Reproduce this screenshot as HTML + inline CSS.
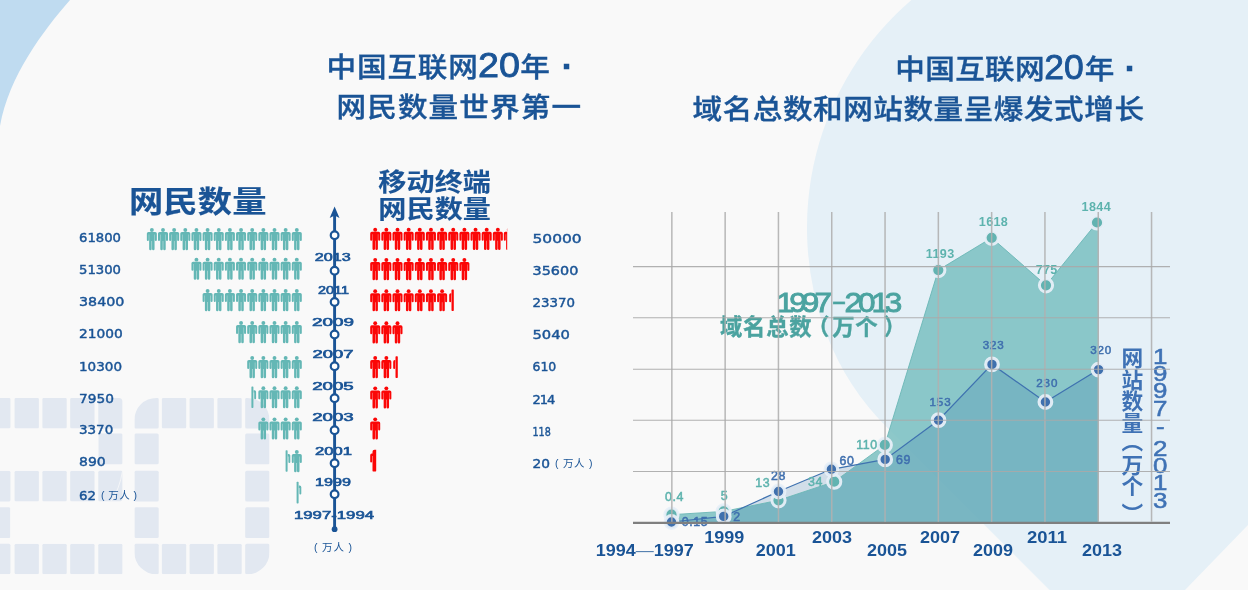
<!DOCTYPE html>
<html lang="zh-CN"><head><meta charset="utf-8"><title>中国互联网20年</title>
<style>html,body{margin:0;padding:0;background:#f9f9f9;}body{width:1248px;height:590px;overflow:hidden;position:relative;}svg{display:block;position:absolute;left:0;top:0;}
text{font-family:"Liberation Sans","Noto Sans CJK SC",sans-serif;}
.cj{font-family:"Liberation Sans","Noto Sans CJK SC",sans-serif;font-weight:700;}
.num{font-family:"DejaVu Sans","Liberation Sans",sans-serif;font-size:13px;fill:#1a5496;stroke:#1a5496;stroke-width:.45;}
.yr{font-family:"Liberation Sans",sans-serif;font-size:11.2px;fill:#1a5496;stroke:#1a5496;stroke-width:.6;text-anchor:middle;}
.ax{font-family:"Liberation Sans",sans-serif;font-weight:700;font-size:16px;fill:#1a5496;text-anchor:middle;}
.tl{font-family:"Liberation Sans",sans-serif;font-size:11.6px;fill:#5db3ae;stroke:#5db3ae;stroke-width:.5;text-anchor:middle;letter-spacing:.9px;}
.bl{font-family:"Liberation Sans",sans-serif;font-size:11.6px;fill:#3f6fae;stroke:#3f6fae;stroke-width:.5;text-anchor:middle;letter-spacing:.9px;}
</style></head><body>
<svg width="1248" height="590" viewBox="0 0 1248 590">
<defs>
<g id="p"><circle cx="5" cy="1.95" r="1.95"/><path d="M1.6,4 H8.4 A1.6,1.6 0 0 1 10,5.6 V12 A1,1 0 0 1 8,12 V6.4 H7.7 V20.9 A1.25,1.25 0 0 1 5.2,20.9 V13 H4.8 V20.9 A1.25,1.25 0 0 1 2.3,20.9 V6.4 H2 V12 A1,1 0 0 1 0,12 V5.6 A1.6,1.6 0 0 1 1.6,4 Z"/></g>
<g id="pr"><rect x="0" y="0.2" width="2" height="21.6" rx=".7"/><path d="M2.2,4 h0.9 a1.6,1.6 0 0 1 1.6,1.6 V12 a0.95,0.95 0 0 1 -1.9,0 V6.4 H2.2 Z"/></g>
<g id="pl"><rect x="2.3" y="0.2" width="2.3" height="21.6" rx=".7"/><path d="M2.1,4 h-0.5 a1.6,1.6 0 0 0 -1.6,1.6 V12 a0.95,0.95 0 0 0 1.9,0 V6.4 H2.1 Z"/></g>
<clipPath id="c20"><path clip-rule="evenodd" d="M156.4,397.9 H247.5 A22,22 0 0 1 269.5,419.9 V552.3 A22,22 0 0 1 247.5,574.3 H156.4 A22,22 0 0 1 134.4,552.3 V419.9 A22,22 0 0 1 156.4,397.9 Z M160,428.4 V543.7 H243.5 V428.4 Z"/>
<path d="M-20,397.9 H119.1 A3.5,3.5 0 0 1 122.6,401.4 V498.4 A3,3 0 0 1 119.6,501.4 H10.4 V543.7 H122.6 V574.3 H-20 V492 A21.4,21.4 0 0 1 1.4,470.8 H98.3 V428.4 H-20 Z"/></clipPath>
<clipPath id="cr8"><rect x="360" y="445" width="16.2" height="40"/></clipPath>
<clipPath id="cr1"><rect x="360" y="220" width="147.2" height="40"/></clipPath>
</defs>
<rect width="1248" height="590" fill="#f9f9f9"/>
<path d="M0,0 H70 C43,31 9,76 0,126 Z" fill="#bfdbf0"/>
<path d="M911.4,0 A300.4,300.4 0 0 0 827,335.5 Q847.1,387.6 886.6,427 L1049.5,590 H1185 L1248,525 V0 Z" fill="#e5f0f7"/>
<g clip-path="url(#c20)" fill="#e2e8f1">
<rect x="-13.9" y="397.9" width="24.3" height="30.6" rx="1.5"/>
<rect x="14.6" y="397.9" width="24.3" height="30.6" rx="1.5"/>
<rect x="42.4" y="397.9" width="24.3" height="30.6" rx="1.5"/>
<rect x="70.2" y="397.9" width="24.3" height="30.6" rx="1.5"/>
<rect x="98.3" y="397.9" width="24.3" height="30.6" rx="1.5"/>
<rect x="134.4" y="397.9" width="24.3" height="30.6" rx="1.5"/>
<rect x="161.9" y="397.9" width="24.3" height="30.6" rx="1.5"/>
<rect x="189.6" y="397.9" width="24.3" height="30.6" rx="1.5"/>
<rect x="217.4" y="397.9" width="24.3" height="30.6" rx="1.5"/>
<rect x="245.2" y="397.9" width="24.3" height="30.6" rx="1.5"/>
<rect x="-13.9" y="433.6" width="24.3" height="30.6" rx="1.5"/>
<rect x="14.6" y="433.6" width="24.3" height="30.6" rx="1.5"/>
<rect x="42.4" y="433.6" width="24.3" height="30.6" rx="1.5"/>
<rect x="70.2" y="433.6" width="24.3" height="30.6" rx="1.5"/>
<rect x="98.3" y="433.6" width="24.3" height="30.6" rx="1.5"/>
<rect x="134.4" y="433.6" width="24.3" height="30.6" rx="1.5"/>
<rect x="161.9" y="433.6" width="24.3" height="30.6" rx="1.5"/>
<rect x="189.6" y="433.6" width="24.3" height="30.6" rx="1.5"/>
<rect x="217.4" y="433.6" width="24.3" height="30.6" rx="1.5"/>
<rect x="245.2" y="433.6" width="24.3" height="30.6" rx="1.5"/>
<rect x="-13.9" y="470.8" width="24.3" height="30.6" rx="1.5"/>
<rect x="14.6" y="470.8" width="24.3" height="30.6" rx="1.5"/>
<rect x="42.4" y="470.8" width="24.3" height="30.6" rx="1.5"/>
<rect x="70.2" y="470.8" width="24.3" height="30.6" rx="1.5"/>
<rect x="98.3" y="470.8" width="24.3" height="30.6" rx="1.5"/>
<rect x="134.4" y="470.8" width="24.3" height="30.6" rx="1.5"/>
<rect x="161.9" y="470.8" width="24.3" height="30.6" rx="1.5"/>
<rect x="189.6" y="470.8" width="24.3" height="30.6" rx="1.5"/>
<rect x="217.4" y="470.8" width="24.3" height="30.6" rx="1.5"/>
<rect x="245.2" y="470.8" width="24.3" height="30.6" rx="1.5"/>
<rect x="-13.9" y="507.3" width="24.3" height="30.6" rx="1.5"/>
<rect x="14.6" y="507.3" width="24.3" height="30.6" rx="1.5"/>
<rect x="42.4" y="507.3" width="24.3" height="30.6" rx="1.5"/>
<rect x="70.2" y="507.3" width="24.3" height="30.6" rx="1.5"/>
<rect x="98.3" y="507.3" width="24.3" height="30.6" rx="1.5"/>
<rect x="134.4" y="507.3" width="24.3" height="30.6" rx="1.5"/>
<rect x="161.9" y="507.3" width="24.3" height="30.6" rx="1.5"/>
<rect x="189.6" y="507.3" width="24.3" height="30.6" rx="1.5"/>
<rect x="217.4" y="507.3" width="24.3" height="30.6" rx="1.5"/>
<rect x="245.2" y="507.3" width="24.3" height="30.6" rx="1.5"/>
<rect x="-13.9" y="543.7" width="24.3" height="30.6" rx="1.5"/>
<rect x="14.6" y="543.7" width="24.3" height="30.6" rx="1.5"/>
<rect x="42.4" y="543.7" width="24.3" height="30.6" rx="1.5"/>
<rect x="70.2" y="543.7" width="24.3" height="30.6" rx="1.5"/>
<rect x="98.3" y="543.7" width="24.3" height="30.6" rx="1.5"/>
<rect x="134.4" y="543.7" width="24.3" height="30.6" rx="1.5"/>
<rect x="161.9" y="543.7" width="24.3" height="30.6" rx="1.5"/>
<rect x="189.6" y="543.7" width="24.3" height="30.6" rx="1.5"/>
<rect x="217.4" y="543.7" width="24.3" height="30.6" rx="1.5"/>
<rect x="245.2" y="543.7" width="24.3" height="30.6" rx="1.5"/>
</g>
<path d="M122.4,471.5 Q119.5,489 111.3,501" fill="none" stroke="#f9f9f9" stroke-width=".8"/>
<g class="cj" fill="#1a5496" stroke="#1a5496" stroke-width=".4" style="font-weight:500">
<text transform="translate(0,76.6) scale(1,.925)" y="0" font-size="29.6"><tspan x="326.6" textLength="151.2">中国互联网</tspan><tspan x="478" font-size="38" dy=".9" font-weight="400" stroke="#1a5496" stroke-width=".9" textLength="42" lengthAdjust="spacingAndGlyphs" style="font-family:'Liberation Sans',sans-serif">20</tspan><tspan x="520.3" dy="-.9">年</tspan><tspan x="561.6" font-size="36" dy="1.6" font-weight="700">·</tspan></text>
<text transform="translate(0,117.2) scale(1,.925)" x="581" y="0" font-size="29.6" text-anchor="end" textLength="244.5">网民数量世界第一</text>
<text transform="translate(0,78.6) scale(1,.925)" y="0" font-size="29.6"><tspan x="895.2" textLength="149.5">中国互联网</tspan><tspan x="1044.2" font-size="38" dy=".9" font-weight="400" stroke="#1a5496" stroke-width=".9" textLength="39.5" lengthAdjust="spacingAndGlyphs" style="font-family:'Liberation Sans',sans-serif">20</tspan><tspan x="1084.8" dy="-.9">年</tspan><tspan x="1124.6" font-size="36" dy="1.6" font-weight="700">·</tspan></text>
<text transform="translate(0,119.2) scale(1,.925)" x="1144" y="0" font-size="29.6" text-anchor="end" textLength="451.5">域名总数和网站数量呈爆发式增长</text>
<text transform="translate(128.9,211.9) scale(1.15,1)" font-size="29.8" textLength="119.6" style="font-weight:700;stroke-width:.15">网民数量</text>
<text transform="translate(378.2,191.2) scale(1.147,1)" font-size="24.5" textLength="98.3" style="font-weight:700;stroke-width:.1">移动终端</text>
<text transform="translate(378.2,217.8) scale(1.147,1)" font-size="24.5" textLength="98.3" style="font-weight:700;stroke-width:.1">网民数量</text>
</g>
<g fill="#64b7b5">
<use href="#p" x="291.80" y="228.0"/>
<use href="#p" x="280.65" y="228.0"/>
<use href="#p" x="269.50" y="228.0"/>
<use href="#p" x="258.35" y="228.0"/>
<use href="#p" x="247.20" y="228.0"/>
<use href="#p" x="236.05" y="228.0"/>
<use href="#p" x="224.90" y="228.0"/>
<use href="#p" x="213.75" y="228.0"/>
<use href="#p" x="202.60" y="228.0"/>
<use href="#p" x="191.45" y="228.0"/>
<use href="#p" x="180.30" y="228.0"/>
<use href="#p" x="169.15" y="228.0"/>
<use href="#p" x="158.00" y="228.0"/>
<use href="#p" x="146.85" y="228.0"/>
<use href="#p" x="291.80" y="257.7"/>
<use href="#p" x="280.65" y="257.7"/>
<use href="#p" x="269.50" y="257.7"/>
<use href="#p" x="258.35" y="257.7"/>
<use href="#p" x="247.20" y="257.7"/>
<use href="#p" x="236.05" y="257.7"/>
<use href="#p" x="224.90" y="257.7"/>
<use href="#p" x="213.75" y="257.7"/>
<use href="#p" x="202.60" y="257.7"/>
<use href="#p" x="191.45" y="257.7"/>
<use href="#p" x="291.80" y="289.0"/>
<use href="#p" x="280.65" y="289.0"/>
<use href="#p" x="269.50" y="289.0"/>
<use href="#p" x="258.35" y="289.0"/>
<use href="#p" x="247.20" y="289.0"/>
<use href="#p" x="236.05" y="289.0"/>
<use href="#p" x="224.90" y="289.0"/>
<use href="#p" x="213.75" y="289.0"/>
<use href="#p" x="202.60" y="289.0"/>
<use href="#p" x="291.80" y="321.0"/>
<use href="#p" x="280.65" y="321.0"/>
<use href="#p" x="269.50" y="321.0"/>
<use href="#p" x="258.35" y="321.0"/>
<use href="#p" x="247.20" y="321.0"/>
<use href="#p" x="236.05" y="321.0"/>
<use href="#p" x="291.80" y="356.0"/>
<use href="#p" x="280.65" y="356.0"/>
<use href="#p" x="269.50" y="356.0"/>
<use href="#p" x="258.35" y="356.0"/>
<use href="#p" x="247.20" y="356.0"/>
<use href="#p" x="291.80" y="386.2"/>
<use href="#p" x="280.65" y="386.2"/>
<use href="#p" x="269.50" y="386.2"/>
<use href="#p" x="258.35" y="386.2"/>
<use href="#pr" x="251.40" y="386.2"/>
<use href="#p" x="291.80" y="417.4"/>
<use href="#p" x="280.65" y="417.4"/>
<use href="#p" x="269.50" y="417.4"/>
<use href="#p" x="258.35" y="417.4"/>
<use href="#p" x="291.80" y="450.0"/>
<use href="#pr" x="285.60" y="450.0"/>
<use href="#pr" x="296.60" y="481.6"/>
</g>
<g fill="#fb0606">
<use href="#p" x="370.20" y="227.8"/>
<use href="#p" x="381.35" y="227.8"/>
<use href="#p" x="392.50" y="227.8"/>
<use href="#p" x="403.65" y="227.8"/>
<use href="#p" x="414.80" y="227.8"/>
<use href="#p" x="425.95" y="227.8"/>
<use href="#p" x="437.10" y="227.8"/>
<use href="#p" x="448.25" y="227.8"/>
<use href="#p" x="459.40" y="227.8"/>
<use href="#p" x="470.55" y="227.8"/>
<use href="#p" x="481.70" y="227.8"/>
<use href="#p" x="492.85" y="227.8"/>
<g clip-path="url(#cr1)"><use href="#p" x="503.80" y="227.8"/></g>
<use href="#p" x="370.20" y="258.0"/>
<use href="#p" x="381.35" y="258.0"/>
<use href="#p" x="392.50" y="258.0"/>
<use href="#p" x="403.65" y="258.0"/>
<use href="#p" x="414.80" y="258.0"/>
<use href="#p" x="425.95" y="258.0"/>
<use href="#p" x="437.10" y="258.0"/>
<use href="#p" x="448.25" y="258.0"/>
<use href="#p" x="459.40" y="258.0"/>
<use href="#p" x="370.20" y="289.2"/>
<use href="#p" x="381.35" y="289.2"/>
<use href="#p" x="392.50" y="289.2"/>
<use href="#p" x="403.65" y="289.2"/>
<use href="#p" x="414.80" y="289.2"/>
<use href="#p" x="425.95" y="289.2"/>
<use href="#p" x="437.10" y="289.2"/>
<use href="#pl" x="449.20" y="289.2"/>
<use href="#p" x="370.20" y="321.3"/>
<use href="#p" x="381.35" y="321.3"/>
<use href="#p" x="392.50" y="321.3"/>
<use href="#p" x="370.20" y="356.1"/>
<use href="#p" x="381.35" y="356.1"/>
<use href="#pl" x="393.20" y="356.1"/>
<use href="#p" x="370.20" y="386.4"/>
<use href="#p" x="381.35" y="386.4"/>
<use href="#p" x="370.20" y="417.4"/>
<path transform="translate(370.20,449.6)" d="M1.6,4 H2.3 V2.2 A2,2 0 0 1 4.3,0.2 H6 V21.2 A0.6,0.6 0 0 1 5.4,21.8 H2.9 A0.6,0.6 0 0 1 2.3,21.2 V6.4 H1.9 V12 A0.95,0.95 0 0 1 0,12 V5.6 A1.6,1.6 0 0 1 1.6,4 Z"/>
</g>
<text class="num" x="79.0" y="241.7" textLength="42.0" lengthAdjust="spacingAndGlyphs">61800</text>
<text class="num" x="79.0" y="274.0" textLength="42.0" lengthAdjust="spacingAndGlyphs">51300</text>
<text class="num" x="79.0" y="305.6" textLength="45.4" lengthAdjust="spacingAndGlyphs">38400</text>
<text class="num" x="79.0" y="337.6" textLength="43.7" lengthAdjust="spacingAndGlyphs">21000</text>
<text class="num" x="79.0" y="370.8" textLength="43.0" lengthAdjust="spacingAndGlyphs">10300</text>
<text class="num" x="79.0" y="402.7" textLength="34.9" lengthAdjust="spacingAndGlyphs">7950</text>
<text class="num" x="79.0" y="434.3" textLength="34.2" lengthAdjust="spacingAndGlyphs">3370</text>
<text class="num" x="79.0" y="466.3" textLength="26.7" lengthAdjust="spacingAndGlyphs">890</text>
<text class="num" x="79.0" y="499.5" textLength="17.0" lengthAdjust="spacingAndGlyphs">62</text>
<text x="101" y="499" font-size="10.5" fill="#1a5496" textLength="36" style="font-family:'Liberation Sans','Noto Sans CJK SC',sans-serif">( 万人 )</text>
<text class="num" x="532.5" y="243.0" textLength="49.2" lengthAdjust="spacingAndGlyphs">50000</text>
<text class="num" x="532.5" y="274.7" textLength="45.8" lengthAdjust="spacingAndGlyphs">35600</text>
<text class="num" x="532.5" y="307.0" textLength="42.5" lengthAdjust="spacingAndGlyphs">23370</text>
<text class="num" x="532.5" y="338.5" textLength="37.5" lengthAdjust="spacingAndGlyphs">5040</text>
<text class="num" x="532.5" y="371.0" textLength="23.8" lengthAdjust="spacingAndGlyphs">610</text>
<text class="num" x="532.5" y="404.0" textLength="22.7" lengthAdjust="spacing">214</text>
<text class="num" x="532.5" y="436.0" textLength="18.3" lengthAdjust="spacingAndGlyphs">118</text>
<text class="num" x="532.5" y="467.5" textLength="17.5" lengthAdjust="spacingAndGlyphs">20</text>
<text x="555" y="467" font-size="10.5" fill="#1a5496" textLength="37.5" style="font-family:'Liberation Sans','Noto Sans CJK SC',sans-serif">( 万人 )</text>
<g stroke="#1a5496" fill="#1a5496">
<line x1="334.6" y1="214" x2="334.6" y2="529" stroke-width="2.9"/>
<path d="M334.6,206.5 L339.5,218 L334.6,215.6 L329.7,218 Z" stroke="none"/>
<circle cx="334.6" cy="529.2" r="2.9" stroke="none"/>
<circle cx="334.6" cy="235.2" r="3.85" fill="#ffffff" stroke-width="2.2"/>
<circle cx="334.6" cy="270.8" r="3.85" fill="#ffffff" stroke-width="2.2"/>
<circle cx="334.6" cy="301.9" r="3.85" fill="#ffffff" stroke-width="2.2"/>
<circle cx="334.6" cy="334.5" r="3.85" fill="#ffffff" stroke-width="2.2"/>
<circle cx="334.6" cy="366.2" r="3.85" fill="#ffffff" stroke-width="2.2"/>
<circle cx="334.6" cy="398.2" r="3.85" fill="#ffffff" stroke-width="2.2"/>
<circle cx="334.6" cy="430.2" r="3.85" fill="#ffffff" stroke-width="2.2"/>
<circle cx="334.6" cy="463.2" r="3.85" fill="#ffffff" stroke-width="2.2"/>
<circle cx="334.6" cy="494.2" r="3.85" fill="#ffffff" stroke-width="2.2"/>
</g>
<text class="yr" x="332.7" y="261.1" textLength="36.0" lengthAdjust="spacingAndGlyphs">2013</text>
<text class="yr" x="333.6" y="293.8" textLength="31.0" lengthAdjust="spacingAndGlyphs">2011</text>
<text class="yr" x="333.0" y="325.7" textLength="42.0" lengthAdjust="spacingAndGlyphs">2009</text>
<text class="yr" x="333.0" y="358.0" textLength="41.0" lengthAdjust="spacingAndGlyphs">2007</text>
<text class="yr" x="333.0" y="389.7" textLength="41.5" lengthAdjust="spacingAndGlyphs">2005</text>
<text class="yr" x="333.0" y="421.2" textLength="41.5" lengthAdjust="spacingAndGlyphs">2003</text>
<text class="yr" x="333.5" y="455.0" textLength="37.0" lengthAdjust="spacingAndGlyphs">2001</text>
<text class="yr" x="333.0" y="486.2" textLength="36.0" lengthAdjust="spacingAndGlyphs">1999</text>
<text class="yr" x="334" y="519" textLength="80" lengthAdjust="spacingAndGlyphs">1997-1994</text>
<text x="333" y="550.5" font-size="10.5" fill="#1a5496" text-anchor="middle" textLength="38" style="font-family:'Liberation Sans','Noto Sans CJK SC',sans-serif">( 万人 )</text>
<text class="tl" x="1046.7" y="273.8" style="font-size:12.6px;font-weight:700;stroke-width:0;letter-spacing:.35px">775</text>
<polygon points="671.5,514.7 723.7,511.4 778.5,500.3 834.2,481.7 884.8,444.9 938.3,270.1 991.7,237.8 1046.0,285.3 1097.0,222.5 1098.6,222.5 1098.6,522.8 671.5,522.8" fill="#7ac0c1" fill-opacity=".85"/>
<polygon points="671.5,522.0 723.7,516.4 778.5,491.5 831.4,469.3 885.2,459.4 938.5,420.2 992.0,364.4 1045.4,402.0 1098.6,369.6 1098.6,522.8 671.5,522.8" fill="#256aa5" fill-opacity=".19"/>
<polyline points="671.5,514.7 723.7,511.4 778.5,500.3 834.2,481.7 884.8,444.9 938.3,270.1 991.7,237.8 1046.0,285.3 1097.0,222.5" fill="none" stroke="#6ab7b5" stroke-width=".9"/>
<polyline points="671.5,522.0 723.7,516.4 778.5,491.5 831.4,469.3 885.2,459.4 938.5,420.2 992.0,364.4 1045.4,402.0 1098.6,369.6" fill="none" stroke="#3f72b0" stroke-width="1.2"/>
<circle cx="671.5" cy="514.7" r="6.6" fill="#62b3b1" stroke="#e7eff8" stroke-opacity=".95" stroke-width="3"/>
<circle cx="723.7" cy="511.4" r="6.6" fill="#62b3b1" stroke="#e7eff8" stroke-opacity=".95" stroke-width="3"/>
<circle cx="778.5" cy="500.3" r="6.6" fill="#62b3b1" stroke="#e7eff8" stroke-opacity=".95" stroke-width="3"/>
<circle cx="834.2" cy="481.7" r="6.6" fill="#62b3b1" stroke="#e7eff8" stroke-opacity=".95" stroke-width="3"/>
<circle cx="884.8" cy="444.9" r="6.6" fill="#62b3b1" stroke="#e7eff8" stroke-opacity=".95" stroke-width="3"/>
<circle cx="938.3" cy="270.1" r="6.6" fill="#62b3b1" stroke="#e7eff8" stroke-opacity=".95" stroke-width="3"/>
<circle cx="991.7" cy="237.8" r="6.6" fill="#62b3b1" stroke="#e7eff8" stroke-opacity=".95" stroke-width="3"/>
<circle cx="1046.0" cy="285.3" r="6.6" fill="#62b3b1" stroke="#e7eff8" stroke-opacity=".95" stroke-width="3"/>
<circle cx="1097.0" cy="222.5" r="6.6" fill="#62b3b1" stroke="#e7eff8" stroke-opacity=".95" stroke-width="3"/>
<circle cx="671.5" cy="522.0" r="6.3" fill="#3f70ae" stroke="#e7eff8" stroke-opacity=".95" stroke-width="3.2"/>
<circle cx="723.7" cy="516.4" r="6.3" fill="#3f70ae" stroke="#e7eff8" stroke-opacity=".95" stroke-width="3.2"/>
<circle cx="778.5" cy="491.5" r="6.3" fill="#3f70ae" stroke="#e7eff8" stroke-opacity=".95" stroke-width="3.2"/>
<circle cx="831.4" cy="469.3" r="6.3" fill="#3f70ae" stroke="#e7eff8" stroke-opacity=".95" stroke-width="3.2"/>
<circle cx="885.2" cy="459.4" r="6.3" fill="#3f70ae" stroke="#e7eff8" stroke-opacity=".95" stroke-width="3.2"/>
<circle cx="938.5" cy="420.2" r="6.3" fill="#3f70ae" stroke="#e7eff8" stroke-opacity=".95" stroke-width="3.2"/>
<circle cx="992.0" cy="364.4" r="6.3" fill="#3f70ae" stroke="#e7eff8" stroke-opacity=".95" stroke-width="3.2"/>
<circle cx="1045.4" cy="402.0" r="6.3" fill="#3f70ae" stroke="#e7eff8" stroke-opacity=".95" stroke-width="3.2"/>
<circle cx="1098.6" cy="369.6" r="6.3" fill="#3f70ae" stroke="#e7eff8" stroke-opacity=".95" stroke-width="3.2"/>
<text class="tl" x="674.5" y="501.4" style="font-size:12.4px;letter-spacing:.6px">0.4</text>
<text class="tl" x="724.5" y="500.4" style="font-size:12.4px;letter-spacing:.6px">5</text>
<text class="tl" x="762.7" y="487.4" style="font-size:12.4px;letter-spacing:.6px">13</text>
<text class="tl" x="815.5" y="485.9" style="font-size:12.4px;letter-spacing:.6px">34</text>
<text class="tl" x="867.0" y="449.0" style="font-size:12.4px;letter-spacing:.6px">110</text>
<text class="tl" x="940.2" y="258.0" style="font-size:12.6px;font-weight:700;stroke-width:0;letter-spacing:.35px">1193</text>
<text class="tl" x="993.5" y="226.0" style="font-size:12.6px;font-weight:700;stroke-width:0;letter-spacing:.35px">1618</text>
<text class="tl" x="1096.3" y="211.1" style="font-size:12.6px;font-weight:700;stroke-width:0;letter-spacing:.35px">1844</text>
<text class="bl" x="695.0" y="525.9" style="font-size:12.4px;letter-spacing:.6px">0.15</text>
<text class="bl" x="737.0" y="521.1" style="font-size:12.4px;letter-spacing:.6px">2</text>
<text class="bl" x="778.5" y="480.1" style="font-size:12.4px;letter-spacing:.6px">28</text>
<text class="bl" x="847.0" y="465.0" style="font-size:12.4px;letter-spacing:.6px">60</text>
<text class="bl" x="903.5" y="463.6" style="font-size:12.4px;letter-spacing:.6px">69</text>
<text class="bl" x="940.5" y="405.6">153</text>
<text class="bl" x="993.7" y="348.5">323</text>
<text class="bl" x="1047.3" y="386.5">230</text>
<text class="bl" x="1101.2" y="354.4">320</text>
<text class="ax" x="644.7" y="555.8" textLength="98" lengthAdjust="spacingAndGlyphs">1994<tspan font-weight="400" fill-opacity=".75">—</tspan>1997</text>
<text class="ax" x="724.2" y="542.6" textLength="40" lengthAdjust="spacingAndGlyphs">1999</text>
<text class="ax" x="775.8" y="555.8" textLength="40" lengthAdjust="spacingAndGlyphs">2001</text>
<text class="ax" x="832.0" y="542.6" textLength="40" lengthAdjust="spacingAndGlyphs">2003</text>
<text class="ax" x="887.0" y="555.8" textLength="40" lengthAdjust="spacingAndGlyphs">2005</text>
<text class="ax" x="940.0" y="542.6" textLength="40" lengthAdjust="spacingAndGlyphs">2007</text>
<text class="ax" x="993.0" y="555.8" textLength="40" lengthAdjust="spacingAndGlyphs">2009</text>
<text class="ax" x="1047.0" y="542.6" textLength="40" lengthAdjust="spacingAndGlyphs">2011</text>
<text class="ax" x="1102.0" y="555.8" textLength="40" lengthAdjust="spacingAndGlyphs">2013</text>
<g font-size="27.6" fill="#4ba3a0" stroke="#4ba3a0" stroke-width=".9" style="font-family:'Liberation Sans',sans-serif">
<text transform="translate(776.6,312.4) scale(1.14,1)" textLength="48.6" lengthAdjust="spacing">1997</text>
<text transform="translate(831.2,310) scale(1.7,1)" stroke-width=".4">-</text>
<text transform="translate(844.6,312.4) scale(1.14,1)" textLength="50.6" lengthAdjust="spacing">2013</text>
</g>
<text class="cj" y="335.3" font-size="22.3" fill="#4ba3a0" stroke="#4ba3a0" stroke-width=".4"><tspan x="720" textLength="91.5">域名总数</tspan><tspan x="807">（</tspan><tspan x="832.2" textLength="45.4">万个</tspan><tspan x="883.8">）</tspan></text>
<text class="cj" x="1130.3" y="347.0" font-size="21.7" fill="#3f72b5" style="writing-mode:vertical-rl;-webkit-writing-mode:vertical-rl">网站数量</text>
<text class="cj" x="1130.3" y="429.6" font-size="21.7" fill="#3f72b5" style="writing-mode:vertical-rl;-webkit-writing-mode:vertical-rl">（</text>
<text class="cj" x="1130.3" y="453.6" font-size="21.7" fill="#3f72b5" style="writing-mode:vertical-rl;-webkit-writing-mode:vertical-rl">万个</text>
<text class="cj" x="1130.3" y="502.8" font-size="21.7" fill="#3f72b5" style="writing-mode:vertical-rl;-webkit-writing-mode:vertical-rl">）</text>
<g fill="#3f72b5" stroke="#3f72b5" stroke-width=".5" font-size="21.6" text-anchor="middle" style="font-family:'Liberation Sans',sans-serif">
<text transform="translate(1160.2,363.9) scale(1.2,1)" x="0" y="0">1</text>
<text transform="translate(1160.2,381.2) scale(1.2,1)" x="0" y="0">9</text>
<text transform="translate(1160.2,398.4) scale(1.2,1)" x="0" y="0">9</text>
<text transform="translate(1160.2,415.6) scale(1.2,1)" x="0" y="0">7</text>
<text transform="translate(1160.2,434.0) scale(1.2,1)" x="0" y="0">-</text>
<text transform="translate(1160.2,455.6) scale(1.2,1)" x="0" y="0">2</text>
<text transform="translate(1160.2,472.7) scale(1.2,1)" x="0" y="0">0</text>
<text transform="translate(1160.2,489.9) scale(1.2,1)" x="0" y="0">1</text>
<text transform="translate(1160.2,507.6) scale(1.2,1)" x="0" y="0">3</text>
</g>
<line x1="633" y1="522.8" x2="1170" y2="522.8" stroke="#7f7f7f" stroke-width="2.2"/>
<g stroke="#a8a8a8" stroke-width="1.1" stroke-opacity=".9">
<line x1="671.85" y1="212" x2="671.85" y2="521.8" stroke-width="1.5" stroke="#b0b0b0"/>
<line x1="725.15" y1="212" x2="725.15" y2="521.8" stroke-width="1.5" stroke="#b0b0b0"/>
<line x1="778.45" y1="212" x2="778.45" y2="521.8" stroke-width="1.5" stroke="#b0b0b0"/>
<line x1="831.75" y1="212" x2="831.75" y2="521.8" stroke-width="1.5" stroke="#b0b0b0"/>
<line x1="885.05" y1="212" x2="885.05" y2="521.8" stroke-width="1.5" stroke="#b0b0b0"/>
<line x1="938.35" y1="212" x2="938.35" y2="521.8" stroke-width="1.5" stroke="#b0b0b0"/>
<line x1="991.65" y1="212" x2="991.65" y2="521.8" stroke-width="1.5" stroke="#b0b0b0"/>
<line x1="1044.95" y1="212" x2="1044.95" y2="521.8" stroke-width="1.5" stroke="#b0b0b0"/>
<line x1="1098.25" y1="212" x2="1098.25" y2="521.8" stroke-width="1.5" stroke="#b0b0b0"/>
<line x1="1151.55" y1="212" x2="1151.55" y2="521.8" stroke-width="1.5" stroke="#b0b0b0"/>
<line x1="633" y1="266.6" x2="1170" y2="266.6"/>
<line x1="633" y1="317.8" x2="1170" y2="317.8"/>
<line x1="633" y1="369.2" x2="1170" y2="369.2"/>
<line x1="633" y1="420.3" x2="1170" y2="420.3"/>
<line x1="633" y1="471.5" x2="1170" y2="471.5"/>
</g>
</svg></body></html>
